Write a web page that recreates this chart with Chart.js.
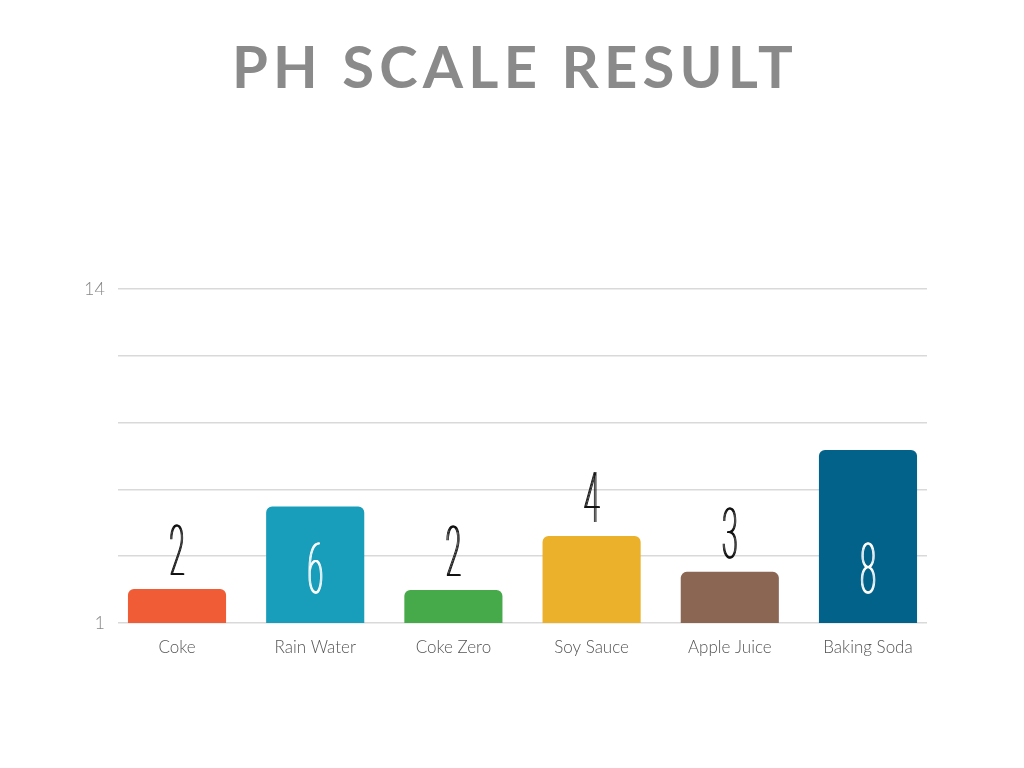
<!DOCTYPE html>
<html>
<head>
<meta charset="utf-8">
<script src="https://cdn.jsdelivr.net/npm/chart.js@4"></script>
<style>
  html, body { margin: 0; padding: 0; background: #fff; }
  #wrap { width: 1024px; height: 768px; }
</style>
</head>
<body>
<div id="wrap"><canvas id="my-chart"></canvas></div>
<script>
const chartTitle = "PH SCALE RESULT";
const drinks = ["Coke", "Rain Water", "Coke Zero", "Soy Sauce", "Apple Juice", "Baking Soda"];
// bar heights as drawn in the picture
const barValues = [2.32, 5.53, 2.28, 4.39, 2.99, 7.73];
// pH numbers written on the bars
const phLabels = ["2", "6", "2", "4", "3", "8"];
const labelInside = [false, true, false, false, false, true];
const barColors = ["#F05C35", "#189EBB", "#46AA4A", "#EBB12A", "#8B6653", "#03628A"];
const tickValues = [1, 3.6, 6.2, 8.8, 11.4, 14];
const tickLabels = ["1", "", "", "", "", "14"];

// title drawn centered on the whole canvas, with letter spacing
const bigTitle = {
  id: "bigTitle",
  afterDraw(chart) {
    const ctx = chart.ctx;
    ctx.save();
    ctx.font = "bold 58px Lato";
    ctx.letterSpacing = "5.2px";
    ctx.fillStyle = "#8a8a8a";
    ctx.textAlign = "center";
    ctx.textBaseline = "alphabetic";
    ctx.fillText(chartTitle, chart.width / 2 + 3, 88);
    ctx.restore();
  }
};

// draws the big thin numbers above / inside the bars
const phNumbers = {
  id: "phNumbers",
  afterDatasetsDraw(chart) {
    const ctx = chart.ctx;
    const meta = chart.getDatasetMeta(0);
    const yScale = chart.scales.y;
    meta.data.forEach((bar, i) => {
      let yPos;
      if (labelInside[i]) {
        yPos = yScale.getPixelForValue(yScale.min) - 30;
      } else {
        yPos = bar.y - 14;
      }
      ctx.save();
      ctx.font = "100 71px Roboto";
      ctx.textAlign = "center";
      ctx.textBaseline = "alphabetic";
      ctx.fillStyle = labelInside[i] ? "#ffffff" : "#111111";
      // a few passes side by side to thicken the squeezed strokes
      [-0.8, 0, 0.8].forEach(dx => {
        ctx.save();
        ctx.translate(bar.x + dx, yPos);
        ctx.scale(0.4, 1);
        ctx.fillText(phLabels[i], 0, 0);
        ctx.restore();
      });
      ctx.restore();
    });
  }
};

const ctx = document.getElementById("my-chart").getContext("2d");
const myChart = new Chart(ctx, {
  type: "bar",
  data: {
    datasets: [
      {
        label: "pH",
        data: barValues.map((v, i) => ({ x: i, y: v })),
        backgroundColor: barColors,
        borderRadius: { topLeft: 6, topRight: 6 },
        borderSkipped: "bottom",
        barPercentage: 0.71,
        categoryPercentage: 1,
      },
    ],
  },
  options: {
    responsive: true,
    maintainAspectRatio: false,
    animation: false,
    layout: {
      padding: { top: 289, right: 97, bottom: 100, left: 0 },
    },
    plugins: {
      legend: { display: false },
      tooltip: { enabled: false },
      title: { display: false },
    },
    scales: {
      x: {
        type: "linear",
        min: -0.427,
        max: 5.427,
        offset: false,
        grid: { display: false },
        border: { display: false },
        afterBuildTicks(scale) {
          scale.ticks = drinks.map((d, i) => ({ value: i }));
        },
        ticks: {
          color: "#555555",
          font: { family: "Lato", size: 17, weight: 300 },
          padding: 6,
          maxRotation: 0,
          autoSkip: false,
          callback: function (value) {
            return drinks[value];
          },
        },
        afterFit(scale) {
          scale.height = 45;
        },
      },
      y: {
        min: 1,
        max: 14,
        border: { display: false },
        grid: { color: "#d9d9d9", lineWidth: 1.5, drawTicks: false },
        afterBuildTicks(scale) {
          scale.ticks = tickValues.map(v => ({ value: v }));
        },
        ticks: {
          color: "#888888",
          font: { family: "Lato", size: 18, weight: 300 },
          padding: 13,
          callback: function (value, index) {
            return tickLabels[index];
          },
        },
        afterFit(scale) {
          scale.width = 118;
        },
      },
    },
  },
  plugins: [phNumbers, bigTitle],
});
</script>
</body>
</html>
